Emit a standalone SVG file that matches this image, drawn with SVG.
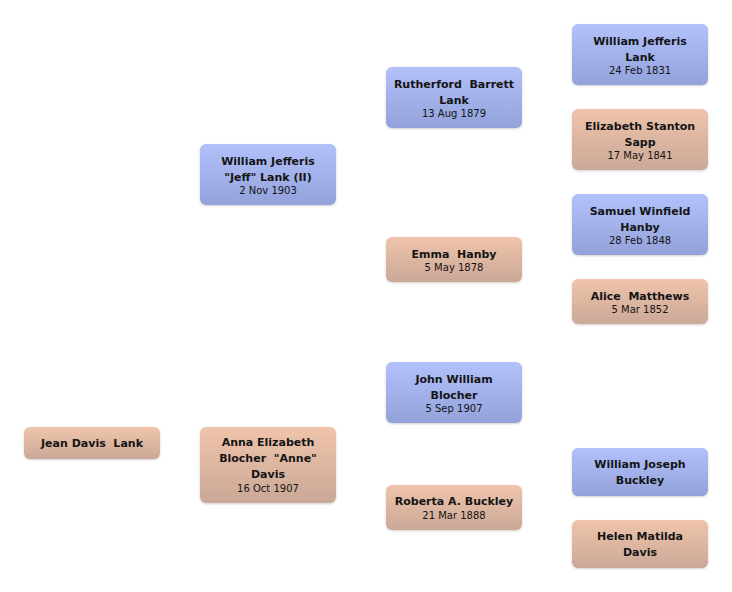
<svg xmlns="http://www.w3.org/2000/svg" width="732" height="592" viewBox="0 0 732 592">
<defs>
<linearGradient id="gm" x1="0" y1="0" x2="0" y2="1"><stop offset="0" stop-color="#b2c1fb"/><stop offset="1" stop-color="#93a2da"/></linearGradient>
<linearGradient id="gf" x1="0" y1="0" x2="0" y2="1"><stop offset="0" stop-color="#f0c4ab"/><stop offset="1" stop-color="#caa897"/></linearGradient>
<filter id="sh" x="-10%" y="-10%" width="120%" height="130%"><feDropShadow dx="0" dy="1" stdDeviation="0.8" flood-color="#000" flood-opacity="0.18"/></filter>
</defs>
<style>
text{font-family:"DejaVu Sans","Liberation Sans",sans-serif;fill:#141414;text-anchor:middle;white-space:pre}
.n{font-size:11px;font-weight:bold}
.d{font-size:10px}
.m{fill:url(#gm);filter:url(#sh)}
.f{fill:url(#gf);filter:url(#sh)}
</style>
<rect width="732" height="592" fill="#fff"/>
<g id="connectors"></g>
<g id="jean"><rect class="f" x="24" y="427" width="136" height="32" rx="6"/><text class="n" x="92" y="447">Jean Davis  Lank</text></g>
<g id="wjj"><rect class="m" x="200" y="144" width="136" height="61" rx="6"/><text class="n" x="268" y="164.5">William Jefferis</text><text class="n" x="268" y="180.5">"Jeff" Lank (II)</text><text class="d" x="268" y="194">2 Nov 1903</text></g>
<g id="aeb"><rect class="f" x="200" y="427" width="136" height="76" rx="6"/><text class="n" x="268" y="446">Anna Elizabeth</text><text class="n" x="268" y="462">Blocher  "Anne"</text><text class="n" x="268" y="478">Davis</text><text class="d" x="268" y="492">16 Oct 1907</text></g>
<g id="rbl"><rect class="m" x="386" y="67" width="136" height="61" rx="6"/><text class="n" x="454" y="87.5">Rutherford  Barrett</text><text class="n" x="454" y="103.5">Lank</text><text class="d" x="454" y="117">13 Aug 1879</text></g>
<g id="emma"><rect class="f" x="386" y="237" width="136" height="45" rx="6"/><text class="n" x="454" y="257.5">Emma  Hanby</text><text class="d" x="454" y="271">5 May 1878</text></g>
<g id="jwb"><rect class="m" x="386" y="362" width="136" height="61" rx="6"/><text class="n" x="454" y="382.5">John William</text><text class="n" x="454" y="398.5">Blocher</text><text class="d" x="454" y="412">5 Sep 1907</text></g>
<g id="rab"><rect class="f" x="386" y="485" width="136" height="45" rx="6"/><text class="n" x="454" y="505">Roberta A. Buckley</text><text class="d" x="454" y="518.5">21 Mar 1888</text></g>
<g id="wjl"><rect class="m" x="572" y="24" width="136" height="61" rx="6"/><text class="n" x="640" y="44.5">William Jefferis</text><text class="n" x="640" y="60.5">Lank</text><text class="d" x="640" y="74">24 Feb 1831</text></g>
<g id="ess"><rect class="f" x="572" y="109" width="136" height="61" rx="6"/><text class="n" x="640" y="129.5">Elizabeth Stanton</text><text class="n" x="640" y="145.5">Sapp</text><text class="d" x="640" y="159">17 May 1841</text></g>
<g id="swh"><rect class="m" x="572" y="194" width="136" height="61" rx="6"/><text class="n" x="640" y="214.5">Samuel Winfield</text><text class="n" x="640" y="230.5">Hanby</text><text class="d" x="640" y="244">28 Feb 1848</text></g>
<g id="alice"><rect class="f" x="572" y="279" width="136" height="45" rx="6"/><text class="n" x="640" y="299.5">Alice  Matthews</text><text class="d" x="640" y="313">5 Mar 1852</text></g>
<g id="wjb"><rect class="m" x="572" y="448" width="136" height="48" rx="6"/><text class="n" x="640" y="468">William Joseph</text><text class="n" x="640" y="484">Buckley</text></g>
<g id="hmd"><rect class="f" x="572" y="520" width="136" height="48" rx="6"/><text class="n" x="640" y="540">Helen Matilda</text><text class="n" x="640" y="556">Davis</text></g>
</svg>
